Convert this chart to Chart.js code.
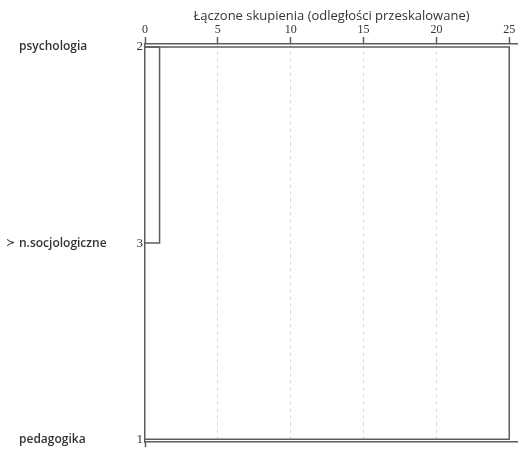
<!DOCTYPE html>
<html>
<head>
<meta charset="utf-8">
<script src="https://cdn.jsdelivr.net/npm/chart.js@4"></script>
<style>
  html, body { margin: 0; padding: 0; background: #fff; }
  .wrap { width: 518px; height: 452px; position: relative; }
</style>
</head>
<body>
<div class="wrap"><canvas id="dendro"></canvas></div>
<script>
// rows top to bottom, as in the dendrogram
const itemNames = ["psychologia", "n.socjologiczne", "pedagogika"];
const caseNumbers = [2, 3, 1];
const markedRow = 1;

// merges: upper row, lower row, rescaled distance
const mergeUpper = [0, 0];
const mergeLower = [1, 2];
const mergeDistance = [1, 25];

const xTicks = [0, 5, 10, 15, 20, 25];
const axisTitle = "Łączone skupienia (odległości przeskalowane)";

const lineColor = "#5c5c5c";
const textColor = "#333";

const datasets = mergeDistance.map((d, i) => ({
  label: "merge " + (i + 1),
  data: [
    { x: 0, y: mergeUpper[i] },
    { x: d, y: mergeUpper[i] },
    { x: d, y: mergeLower[i] },
    { x: 0, y: mergeLower[i] },
  ],
  borderColor: lineColor,
  borderWidth: 1.5,
  pointRadius: 0,
  showLine: true,
  fill: false,
  tension: 0,
}));

const rowNames = {
  id: "rowNames",
  afterDraw(chart) {
    const ctx = chart.ctx;
    const y = chart.scales.y;
    ctx.save();
    ctx.fillStyle = textColor;
    ctx.textBaseline = "middle";
    ctx.textAlign = "left";
    itemNames.forEach((name, i) => {
      const py = y.getPixelForValue(i);
      if (i === markedRow) {
        ctx.font = "11px 'DejaVu Sans', sans-serif";
        ctx.fillText("≻", 6, py);
      }
      ctx.font = "600 12px 'Open Sans', sans-serif";
      ctx.fillText(name, 19, py);
    });
    ctx.restore();
  },
};

new Chart(document.getElementById("dendro"), {
  type: "scatter",
  data: { datasets },
  options: {
    responsive: true,
    maintainAspectRatio: false,
    animation: false,
    layout: { padding: 0 },
    plugins: { legend: { display: false }, tooltip: { enabled: false } },
    scales: {
      x: {
        type: "linear",
        position: "top",
        min: 0,
        max: 25.6,
        afterBuildTicks: (s) => { s.ticks = xTicks.map((v) => ({ value: v })); },
        afterFit: (s) => { s.height = 44; },
        title: {
          display: true,
          text: axisTitle,
          color: textColor,
          font: { family: "'Open Sans', sans-serif", size: 13 },
          padding: { top: 8, bottom: 0 },
        },
        ticks: {
          color: textColor,
          padding: 0,
          maxRotation: 0,
          font: { family: "'Liberation Serif', serif", size: 12 },
        },
        grid: {
          color: (c) => (c.tick && (c.tick.value === 0 || c.tick.value === 25) ? "rgba(0,0,0,0)" : "#d6d6d6"),
          lineWidth: 1,
          tickLength: 7,
          tickColor: lineColor,
          tickWidth: 1.5,
        },
        border: { display: true, color: lineColor, width: 1.5, dash: [3, 4] },
      },
      x2: {
        type: "linear",
        position: "bottom",
        min: 0,
        max: 25.6,
        afterBuildTicks: (s) => { s.ticks = [{ value: 0 }]; },
        afterFit: (s) => { s.height = 5; },
        ticks: { display: false },
        grid: { drawOnChartArea: false, tickLength: 5, tickColor: lineColor, tickWidth: 1.5 },
        border: { display: true, color: lineColor, width: 1.5 },
      },
      y: {
        type: "linear",
        reverse: true,
        min: -0.015,
        max: 2.015,
        afterBuildTicks: (s) => { s.ticks = caseNumbers.map((_, i) => ({ value: i })); },
        afterFit: (s) => { s.width = 145; },
        ticks: {
          color: textColor,
          padding: 2,
          font: { family: "'Liberation Serif', serif", size: 13 },
          callback: (v) => caseNumbers[v],
        },
        grid: { display: false, drawTicks: false },
        border: { display: true, color: lineColor, width: 1.5 },
      },
    },
  },
  plugins: [rowNames],
});
</script>
</body>
</html>
